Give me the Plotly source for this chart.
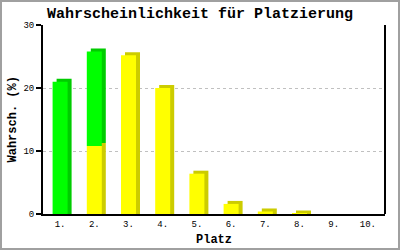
import plotly.graph_objects as go

# Data
places = [1, 2, 3, 4, 5, 6, 7, 8, 9, 10]
place_labels = ["1.", "2.", "3.", "4.", "5.", "6.", "7.", "8.", "9.", "10."]
yellow_vals = [0, 10.8, 25.2, 20.0, 6.4, 1.6, 0.4, 0.08, 0, 0]
green_vals = [21.0, 15.0, 0, 0, 0, 0, 0, 0, 0, 0]
y_ticks = [0, 10, 20, 30]

# Geometry / style
W, H = 400, 250
L, R, T, B = 43, 15, 25, 36
plot_w = W - L - R
plot_h = H - T - B
yr = [0, 30]
xr = [0.5, 10.5]
dx = 4 * (xr[1] - xr[0]) / plot_w      # 3D depth in x (data units)
dz = 3 * (yr[1] - yr[0]) / plot_h      # 3D depth in y (data units)
bar_w = 15 * (xr[1] - xr[0]) / plot_w

Y_FRONT, Y_SIDE = "#FFFF00", "#CCCC00"
G_FRONT, G_SIDE = "#00FF00", "#00CC00"

fig = go.Figure()

xs_shift = [p + dx for p in places]
tot = [y + g for y, g in zip(yellow_vals, green_vals)]

# shadows (side + top faces)
fig.add_trace(go.Bar(
    x=xs_shift,
    y=[(y + dz) if y > 0 else 0 for y in yellow_vals],
    base=[0] * len(places), width=bar_w,
    marker=dict(color=Y_SIDE, line=dict(width=0)), hoverinfo="skip"))
fig.add_trace(go.Bar(
    x=xs_shift,
    y=[(g + (dz if y == 0 else 0)) if g > 0 else 0 for y, g in zip(yellow_vals, green_vals)],
    base=[(y + dz) if y > 0 else 0 for y in yellow_vals], width=bar_w,
    marker=dict(color=G_SIDE, line=dict(width=0)), hoverinfo="skip"))

# front faces
fig.add_trace(go.Bar(
    x=places, y=yellow_vals, base=[0] * len(places), width=bar_w,
    marker=dict(color=Y_FRONT, line=dict(width=0)), hoverinfo="skip"))
fig.add_trace(go.Bar(
    x=places, y=green_vals, base=yellow_vals, width=bar_w,
    marker=dict(color=G_FRONT, line=dict(width=0)), hoverinfo="skip"))

mono = "Liberation Mono"

fig.update_layout(
    width=W, height=H,
    margin=dict(l=L, r=R, t=T, b=B, pad=0),
    paper_bgcolor="white", plot_bgcolor="white",
    barmode="overlay", showlegend=False,
    title=dict(text="Wahrscheinlichkeit für Platzierung",
               font=dict(family=mono, size=15, color="black", weight="bold"),
               x=0.5, xanchor="center", xref="container",
               y=1 - 13 / H, yanchor="middle", yref="container"),
    xaxis=dict(range=xr, tickvals=places, ticktext=place_labels,
               showgrid=False, zeroline=False,
               showline=True, linecolor="black", linewidth=2,
               ticks="", tickfont=dict(family=mono, size=9, color="black"),
               fixedrange=True),
    yaxis=dict(range=yr, tickvals=y_ticks,
               showgrid=True, gridcolor="#c0c0c0", gridwidth=1, griddash="3px,3px",
               zeroline=False,
               showline=True, linecolor="black", linewidth=2,
               ticks="outside", ticklen=5, tickwidth=2, tickcolor="black",
               tickfont=dict(family=mono, size=9, color="black"),
               fixedrange=True),
    shapes=[
        dict(type="line", xref="paper", yref="paper", x0=1, x1=1, y0=0, y1=1,
             line=dict(color="black", width=2)),
        dict(type="rect", xref="paper", yref="paper",
             x0=(1 - L) / plot_w, x1=(W - 1 - L) / plot_w,
             y0=(H - B - (H - 1)) / plot_h, y1=(H - B - 1) / plot_h,
             line=dict(color="#a0a0a0", width=2), fillcolor="rgba(0,0,0,0)"),
    ],
    annotations=[
        dict(text="Platz", xref="paper", yref="paper", x=0.5, y=0,
             xanchor="center", yanchor="middle", yshift=-26, showarrow=False,
             font=dict(family=mono, size=12, color="black", weight="bold")),
        dict(text="Wahrsch. (%)", xref="paper", yref="paper", x=0, y=0.5,
             xanchor="center", yanchor="middle", xshift=-(L - 12), textangle=-90,
             showarrow=False,
             font=dict(family=mono, size=12, color="black", weight="bold")),
    ],
)

fig.write_html("out.html", config={"displayModeBar": False})
